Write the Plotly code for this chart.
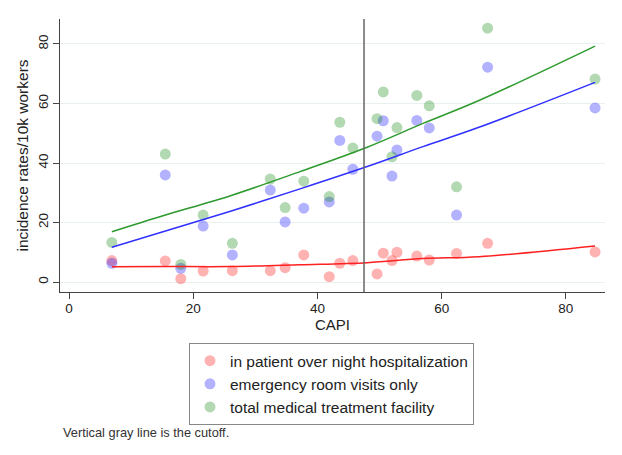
import plotly.graph_objects as go

# ---- data ----
capi = [6.9, 15.5, 18.0, 21.6, 26.3, 32.4, 34.8, 37.8, 41.9, 43.6,
        45.7, 49.6, 50.6, 52.0, 52.8, 56.0, 58.0, 62.4, 67.4, 84.7]
inpatient = [7.2, 7.1, 1.1, 3.7, 3.8, 3.8, 4.8, 9.1, 1.8, 6.3,
             7.2, 2.7, 9.7, 7.2, 10.0, 8.7, 7.4, 9.6, 13.0, 10.1]
emergency = [6.3, 36.0, 4.6, 18.8, 9.1, 30.9, 20.2, 24.8, 26.9, 47.6,
             37.9, 49.0, 54.2, 35.6, 44.4, 54.3, 51.8, 22.5, 72.2, 58.5]
total = [13.3, 43.0, 5.9, 22.5, 13.0, 34.6, 25.0, 33.9, 28.7, 53.7,
         45.0, 54.9, 63.9, 42.1, 51.9, 62.7, 59.2, 32.0, 85.3, 68.2]

# fitted curves at several CAPI values
fit_x = [6.9, 15.0, 26.0, 37.2, 48.0, 57.0, 66.0, 84.7]
fit_inpatient = [5.1, 5.2, 5.2, 5.8, 6.5, 7.9, 8.5, 12.1]
fit_emergency = [11.7, 16.8, 23.8, 31.3, 38.8, 45.5, 52.0, 67.1]
fit_total = [16.9, 22.2, 29.0, 37.1, 45.3, 53.3, 61.0, 79.3]

cutoff = 47.5
x_ticks = [0, 20, 40, 60, 80]
y_ticks = [0, 20, 40, 60, 80]
labels = ["in patient over night hospitalization",
          "emergency room visits only",
          "total medical treatment facility"]
note = "Vertical gray line is the cutoff."

pt_colors = ["rgba(255,0,0,0.3)", "rgba(0,0,255,0.3)", "rgba(0,128,0,0.3)"]
ln_colors = ["#ff2020", "#3030ff", "#2e9a2e"]

FONT = "Liberation Sans, Arial, sans-serif"

fig = go.Figure()
for ys, lab, c in zip([inpatient, emergency, total], labels, pt_colors):
    fig.add_trace(go.Scatter(x=capi, y=ys, mode="markers", name=lab,
                             marker=dict(size=11, color=c, line=dict(width=0))))
for ys, c in zip([fit_inpatient, fit_emergency, fit_total], ln_colors):
    fig.add_trace(go.Scatter(x=fit_x, y=ys, mode="lines", showlegend=False,
                             line=dict(color=c, width=1.5, shape="spline"),
                             hoverinfo="skip"))

fig.add_shape(type="line", xref="x", yref="paper", x0=cutoff, x1=cutoff,
              y0=0, y1=1, line=dict(color="#666666", width=1.5))

fig.add_annotation(text=note, xref="paper", yref="paper", x=0.002, y=-0.516,
                   xanchor="left", yanchor="middle", showarrow=False,
                   font=dict(size=12.8, color="#333333", family=FONT))

# the page body adds an 8px margin, so the figure is 8px smaller each way
fig.update_layout(
    width=614, height=447,
    margin=dict(l=52, r=17, t=11, b=163),
    paper_bgcolor="white", plot_bgcolor="white",
    font=dict(family=FONT, size=13, color="#222222"),
    showlegend=True,
    legend=dict(x=0.2367, y=-0.187, xanchor="left", yanchor="top",
                bordercolor="#888888", borderwidth=1,
                font=dict(size=15.5, color="#222222"),
                tracegroupgap=0, itemwidth=30),
    xaxis=dict(range=[-1.45, 86.3], tickvals=x_ticks, showgrid=False,
               zeroline=False, showline=True, linecolor="#444444",
               linewidth=1, ticks="outside", ticklen=6, tickcolor="#444444",
               automargin=False, ticklabelstandoff=-2,
               tickfont=dict(size=13.5),
               title=dict(text="CAPI", standoff=0, font=dict(size=15))),
    yaxis=dict(range=[-3.36, 88.4], tickvals=y_ticks, showgrid=True,
               gridcolor="#e8f0f0", gridwidth=1, zeroline=False,
               showline=True, linecolor="#444444", linewidth=1,
               ticks="outside", ticklen=6, tickcolor="#444444",
               tickangle=-90, automargin=False,
               tickfont=dict(size=13.5),
               title=dict(text="incidence rates/10k workers", standoff=3,
                          font=dict(size=15.5))),
)

fig.write_html("out.html")
